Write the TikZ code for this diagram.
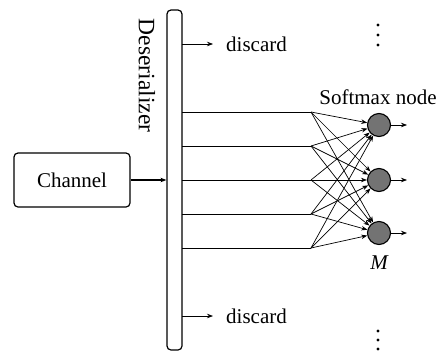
\documentclass[tikz,border=0pt]{standalone}
\usepackage{fontspec}
\setmainfont{Liberation Serif}
\usetikzlibrary{arrows.meta}
\begin{document}
\begin{tikzpicture}[x=1pt,y=-1pt,
  lbl/.style={font=\fontsize{21}{24}\selectfont, inner sep=0pt},
  box/.style={draw, line width=1.2pt, rounded corners=4pt},
  conn/.style={line width=0.7pt},
  arr/.style={line width=0.7pt, -{Stealth[length=6pt,width=4.5pt]}},
  smx/.style={circle, draw, line width=1.1pt, fill=black!55, minimum size=23pt, inner sep=0pt},
  dot/.style={circle, fill=black, inner sep=0pt, minimum size=3.2pt}]
\useasboundingbox (0,0) rectangle (442,354);
% Channel and deserializer
\node[box, minimum width=116pt, minimum height=54pt] (chan) at (72,180) {};
\node[lbl] (chantext) at (72,180) {Channel};
\node[box, minimum width=15pt, minimum height=340pt] (bar) at (174.5,180) {};
\node[lbl, font=\fontsize{23.5}{26}\selectfont, rotate=-90] (deser) at (147,75.5) {Deserializer};
\draw[arr, line width=1.1pt] (chan.east) -- (bar.west);
% discards
\coordinate (d1) at (182,44);
\coordinate (d2) at (182,316);
\node[lbl, anchor=west] (disc1) at (226,44) {discard};
\node[lbl, anchor=west] (disc2) at (226,316) {discard};
\draw[arr] (d1) -- ([xshift=-13pt]disc1.west);
\draw[arr] (d2) -- ([xshift=-13pt]disc2.west);
% softmax nodes
\node[smx] (m1) at (379,125) {};
\node[smx] (m2) at (379,180) {};
\node[smx] (m3) at (379,233) {};
\node[lbl] (smtext) at (378,97) {Softmax node};
\node[lbl] (mlabel) at (379,263) {\itshape M};
\coordinate (e1) at (407,125);
\coordinate (e2) at (407,180);
\coordinate (e3) at (407,233);
\draw[arr] (m1.east) -- (e1);
\draw[arr] (m2.east) -- (e2);
\draw[arr] (m3.east) -- (e3);
% outputs
\foreach \i/\y in {1/112,2/146,3/180,4/214,5/248}{
  \coordinate (o\i) at (182,\y);
  \coordinate (s\i) at (311,\y);
  \draw[conn] (o\i) -- (s\i);
  \foreach \j in {1,2,3}{
    \draw[arr] (s\i) -- (m\j);
  }
}
% dots
\foreach \k/\y in {1/25,2/35,3/45,4/331,5/340,6/349}{
  \node[dot] (dt\k) at (378,\y) {};
}
\end{tikzpicture}
\end{document}
